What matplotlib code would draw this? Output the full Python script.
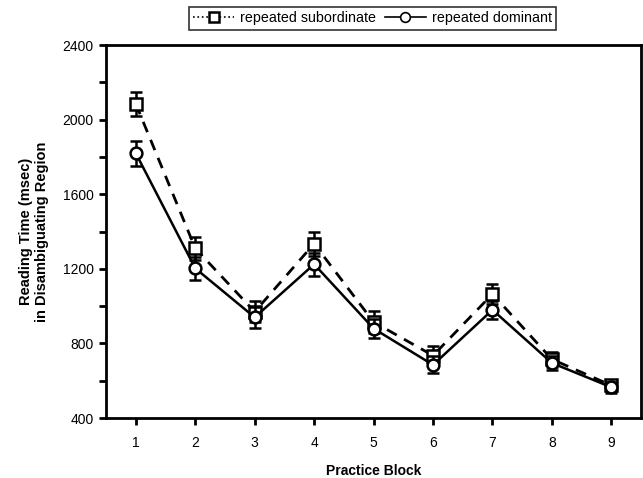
import matplotlib
matplotlib.use("Agg")
import matplotlib.pyplot as plt
from matplotlib.lines import Line2D
from matplotlib.ticker import MultipleLocator

plt.rcParams['font.family'] = ['Liberation Sans', 'DejaVu Sans']

blocks = [1, 2, 3, 4, 5, 6, 7, 8, 9]
sub_rt = [2085, 1310, 970, 1335, 915, 735, 1065, 715, 575]
sub_err = [64, 62, 55, 65, 60, 50, 55, 40, 30]
dom_rt = [1820, 1203, 940, 1225, 880, 685, 980, 695, 565]
dom_err = [67, 62, 55, 62, 50, 45, 50, 40, 30]

fig = plt.figure(figsize=(6.43, 4.78), dpi=100)
ax = fig.add_axes([0.165, 0.1255, 0.832, 0.78])

# repeated subordinate (dashed, squares)
ax.errorbar(blocks, sub_rt, yerr=sub_err, color='black', linestyle=(0, (4, 3)),
            linewidth=2, marker='s', markersize=8, markerfacecolor='white',
            markeredgewidth=1.8, ecolor='black', elinewidth=1.8, capsize=4,
            capthick=1.8, zorder=3)
# repeated dominant (solid, circles)
ax.errorbar(blocks, dom_rt, yerr=dom_err, color='black', linestyle='-',
            linewidth=1.8, marker='o', markersize=8.5, markerfacecolor='white',
            markeredgewidth=1.8, ecolor='black', elinewidth=1.8, capsize=4,
            capthick=1.8, zorder=4)

ax.set_xlim(0.5, 9.5)
ax.set_ylim(400, 2400)
ax.set_xticks(blocks)
ax.yaxis.set_major_locator(MultipleLocator(400))
ax.yaxis.set_minor_locator(MultipleLocator(200))
ax.tick_params(axis='both', which='both', direction='out', width=2, labelsize=10)
ax.tick_params(axis='both', which='major', length=5)
ax.tick_params(axis='x', which='major', pad=8)
ax.tick_params(axis='y', which='major', pad=4)
ax.tick_params(axis='y', which='minor', length=5)
for s in ax.spines.values():
    s.set_linewidth(2)

ax.set_xlabel('Practice Block', fontsize=10, fontweight='bold', labelpad=10)
ax.set_ylabel('Reading Time (msec)\nin Disambiguating Region', fontsize=10.5,
              fontweight='bold', labelpad=10, linespacing=1.1)

handles = [
    Line2D([], [], color='black', linestyle=':', linewidth=1.2, marker='s',
           markersize=7, markerfacecolor='white', markeredgewidth=1.8),
    Line2D([], [], color='black', linestyle='-', linewidth=1.2, marker='o',
           markersize=7, markerfacecolor='white', markeredgewidth=1.2),
]
leg = fig.legend(handles, ['repeated subordinate', 'repeated dominant'],
                 loc='upper center', bbox_to_anchor=(0.579, 1.0), ncol=2,
                 fontsize=10.3, frameon=True, fancybox=False, handlelength=2.9,
                 columnspacing=0.6, handletextpad=0.4, borderpad=0.3)
leg.get_frame().set_edgecolor('black')
leg.get_frame().set_linewidth(1.2)

fig.savefig('out.png', dpi=100)
